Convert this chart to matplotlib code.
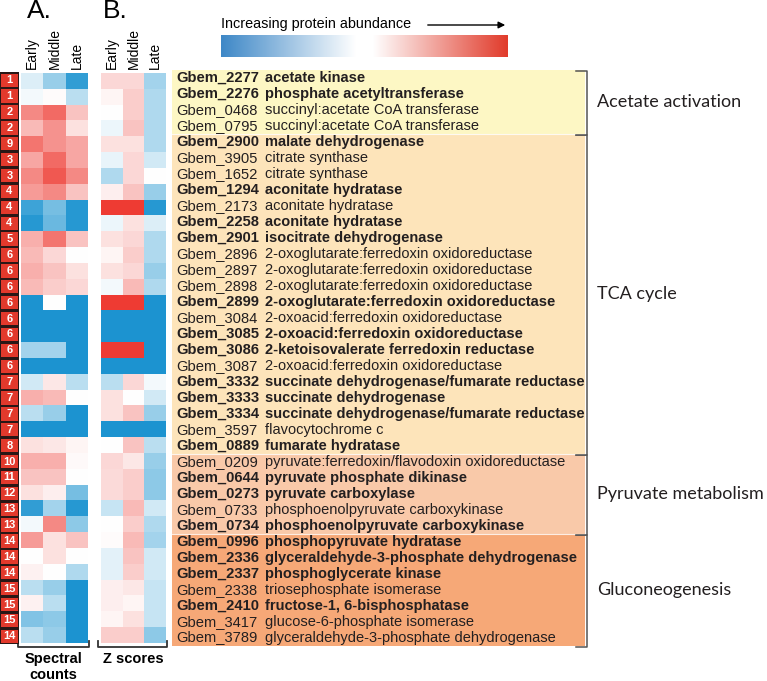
import numpy as np
import matplotlib
matplotlib.use("Agg")
import matplotlib.pyplot as plt
from matplotlib.colors import LinearSegmentedColormap

plt.rcParams['font.family'] = ['Liberation Sans', 'DejaVu Sans']

# row data
numbers = [1, 1, 2, 2, 9, 3, 3, 4, 4, 4, 5, 6, 6, 6, 6, 6, 6, 6, 6, 7, 7, 7, 7, 8,
           10, 11, 12, 13, 13, 14, 14, 14, 15, 15, 15, 14]
gene_ids = ['Gbem_2277', 'Gbem_2276', 'Gbem_0468', 'Gbem_0795', 'Gbem_2900', 'Gbem_3905',
            'Gbem_1652', 'Gbem_1294', 'Gbem_2173', 'Gbem_2258', 'Gbem_2901', 'Gbem_2896',
            'Gbem_2897', 'Gbem_2898', 'Gbem_2899', 'Gbem_3084', 'Gbem_3085', 'Gbem_3086',
            'Gbem_3087', 'Gbem_3332', 'Gbem_3333', 'Gbem_3334', 'Gbem_3597', 'Gbem_0889',
            'Gbem_0209', 'Gbem_0644', 'Gbem_0273', 'Gbem_0733', 'Gbem_0734', 'Gbem_0996',
            'Gbem_2336', 'Gbem_2337', 'Gbem_2338', 'Gbem_2410', 'Gbem_3417', 'Gbem_3789']
descriptions = ['acetate kinase', 'phosphate acetyltransferase',
                'succinyl:acetate CoA transferase', 'succinyl:acetate CoA transferase',
                'malate dehydrogenase', 'citrate synthase', 'citrate synthase',
                'aconitate hydratase', 'aconitate hydratase', 'aconitate hydratase',
                'isocitrate dehydrogenase',
                '2-oxoglutarate:ferredoxin oxidoreductase', '2-oxoglutarate:ferredoxin oxidoreductase',
                '2-oxoglutarate:ferredoxin oxidoreductase', '2-oxoglutarate:ferredoxin oxidoreductase',
                '2-oxoacid:ferredoxin oxidoreductase', '2-oxoacid:ferredoxin oxidoreductase',
                '2-ketoisovalerate ferredoxin reductase', '2-oxoacid:ferredoxin oxidoreductase',
                'succinate dehydrogenase/fumarate reductase', 'succinate dehydrogenase',
                'succinate dehydrogenase/fumarate reductase', 'flavocytochrome c',
                'fumarate hydratase',
                'pyruvate:ferredoxin/flavodoxin oxidoreductase', 'pyruvate phosphate dikinase',
                'pyruvate carboxylase', 'phosphoenolpyruvate carboxykinase',
                'phosphoenolpyruvate carboxykinase',
                'phosphopyruvate hydratase', 'glyceraldehyde-3-phosphate dehydrogenase',
                'phosphoglycerate kinase', 'triosephosphate isomerase',
                'fructose-1, 6-bisphosphatase', 'glucose-6-phosphate isomerase',
                'glyceraldehyde-3-phosphate dehydrogenase']
bold = [1, 1, 0, 0, 1, 0, 0, 1, 0, 1, 1, 0, 0, 0, 1, 0, 1, 1, 0, 1, 1, 1, 0, 1,
        0, 1, 1, 0, 1, 1, 1, 1, 0, 1, 0, 0]

group_names = ['Acetate activation', 'TCA cycle', 'Pyruvate metabolism', 'Gluconeogenesis']
group_sizes = [4, 20, 5, 7]
group_colors = ['#FDF7C4', '#FDE4BA', '#F9C9A9', '#F6A877']

stages = ['Early', 'Middle', 'Late']

# A. spectral counts (relative, -1 blue .. 1 red)
spectral = [[-0.15, -0.45, -0.9], [-0.05, 0.02, -0.3], [0.6, 0.75, 0.3], [0.35, 0.55, 0.15],
            [0.7, 0.55, 0.45], [0.45, 0.75, 0.45], [0.6, 0.85, 0.6], [0.5, 0.6, 0.3],
            [-0.85, -0.6, -0.95], [-0.95, -0.65, -0.95], [0.4, 0.7, 0.3], [0.35, 0.2, 0.0],
            [0.4, 0.3, 0.15], [0.35, 0.25, 0.2], [-1, 0.0, -1], [-1, -1, -1],
            [-1, -1, -1], [-0.4, -0.4, -1], [-1, -1, -1], [-0.2, 0.12, -0.3],
            [0.4, 0.35, 0.0], [-0.3, -0.45, -1], [-1, -1, -1], [0.15, 0.12, 0.05],
            [0.4, 0.4, 0.03], [0.3, 0.3, 0.0], [0.15, 0.08, -0.6], [-0.9, -0.4, -0.95],
            [-0.05, 0.6, -0.5], [0.5, 0.15, 0.3], [0.0, 0.15, 0.0], [0.07, 0.0, -0.35],
            [-0.3, -0.45, -1], [0.07, -0.3, -1], [-0.55, -0.5, -1], [-0.3, -0.45, -1]]
# B. z scores
zscores = [[0.2, 0.2, -0.4], [0.05, 0.25, -0.35], [0.0, 0.25, -0.35], [-0.08, 0.3, -0.35],
           [0.15, 0.15, -0.35], [-0.1, 0.2, -0.2], [-0.35, 0.2, 0.0], [0.08, 0.3, -0.45],
           [1, 1, -0.95], [-0.08, 0.15, -0.15], [0.15, 0.2, -0.35], [0.05, 0.25, -0.35],
           [0.15, 0.2, -0.45], [-0.05, 0.35, -0.35], [1, 1, -1], [-1, -1, -1],
           [-1, -1, -1], [1, 1, -1], [-1, -1, -1], [-0.3, 0.2, -0.05],
           [0.15, 0.0, -0.2], [0.15, 0.3, -0.45], [-1, -1, -1], [0.0, 0.3, -0.3],
           [0.2, 0.12, -0.45], [0.18, 0.25, -0.5], [0.18, 0.25, -0.5], [-0.25, 0.35, -0.2],
           [0.0, 0.25, -0.35], [0.02, 0.35, -0.4], [-0.12, 0.3, -0.2], [-0.12, 0.25, -0.2],
           [0.08, 0.12, -0.25], [0.08, 0.05, -0.25], [0.05, 0.15, -0.25], [0.25, 0.25, -0.5]]

W, H = 767, 681
cmap = LinearSegmentedColormap.from_list('bwr_fig', ['#1C93D0', '#FFFFFF', '#EE3B33'])
cmap_bar = LinearSegmentedColormap.from_list(
    'bar', [(0, '#3E88C7'), (0.47, '#FFFFFF'), (0.53, '#FFFFFF'), (1, '#E13B2B')])

fig = plt.figure(figsize=(W / 100, H / 100), dpi=100)


def add_px(x0, y0, x1, y1):
    return fig.add_axes([x0 / W, 1 - y1 / H, (x1 - x0) / W, (y1 - y0) / H])


# overlay in pixel coordinates for free text
ov = fig.add_axes([0, 0, 1, 1])
ov.set_xlim(0, W)
ov.set_ylim(H, 0)
ov.axis('off')
ov.text(27, 11, 'A.', fontsize=19, va='center')
ov.text(103, 11, 'B.', fontsize=19, va='center')
ov.text(221, 24, 'Increasing protein abundance', fontsize=10.4, va='center')
ov.annotate('', xy=(508, 25), xytext=(425, 25),
            arrowprops=dict(arrowstyle='-|>', color='k', lw=1, mutation_scale=10))
for x0, x1 in [(18, 89), (98, 167)]:
    ov.plot([x0, x0, x1, x1], [641, 647, 647, 641], color='#333333', lw=1.3)
ov.text(53, 667, 'Spectral\ncounts', fontsize=10.5, fontweight='bold', ha='center',
        va='center', linespacing=1.1)
ov.text(133, 659, 'Z scores', fontsize=10.5, fontweight='bold', ha='center', va='center')

n = len(numbers)
rows = np.arange(n)
top, bot = 73.3, 643.3

# numbered boxes
ax_n = add_px(0, top - 1, 19, bot + 1)
ax_n.set_facecolor('#2a1716')
ax_n.barh(rows, 0.86, left=0.07, height=0.84, color='#E2392C')
for i, num in enumerate(numbers):
    ax_n.text(0.5, i, str(num), color='white', fontweight='bold', fontsize=8,
              ha='center', va='center')
ax_n.set_xlim(0, 1)
ax_n.set_ylim(n - 0.5, -0.5)
ax_n.set_xticks([])
ax_n.set_yticks([])
for s in ax_n.spines.values():
    s.set_visible(False)

# heatmaps
for (x0, x1), data in [((21, 88), spectral), ((101, 166), zscores)]:
    ax = add_px(x0, top, x1, bot)
    ax.imshow(np.array(data), cmap=cmap, vmin=-1, vmax=1, aspect='auto',
              interpolation='nearest')
    ax.axis('off')
    for j, st in enumerate(stages):
        ax.text(j, -0.8, st, rotation=90, ha='center', va='bottom', fontsize=10,
                clip_on=False)

# colour bar
ax_c = add_px(221, 35, 508, 57)
ax_c.imshow(np.linspace(-1, 1, 256)[None, :], cmap=cmap_bar, aspect='auto')
ax_c.axis('off')

# label panel
ax_l = add_px(172, 70, 587, 645.5)
ax_l.set_xlim(0, 415)
ax_l.set_ylim(n, 0)
ax_l.axis('off')
start = 0
for name, size, col in zip(group_names, group_sizes, group_colors):
    ax_l.axhspan(start, start + size, xmin=0, xmax=413 / 415, color=col, lw=0)
    if start > 0:
        ax_l.plot([0, 413], [start, start], color='white', lw=0.8, alpha=0.8)
    ax_l.plot([404, 415, 415, 404], [start + 0.08, start + 0.08, start + size + 0.08,
                                     start + size + 0.08],
              color='#555555', lw=1.1, clip_on=False)
    ax_l.text(425, start + size / 2, name, fontsize=13, family='Lato', va='center',
              clip_on=False, color='#231f20')
    start += size
for i in rows:
    w = 'bold' if bold[i] else 'normal'
    ax_l.text(4, i + 0.5, gene_ids[i], fontsize=10.6, fontweight=w, va='center',
              color='#231f20')
    ax_l.text(93, i + 0.5, descriptions[i], fontsize=10.5, fontweight=w, va='center',
              color='#231f20')

fig.savefig('out.png', dpi=100)
